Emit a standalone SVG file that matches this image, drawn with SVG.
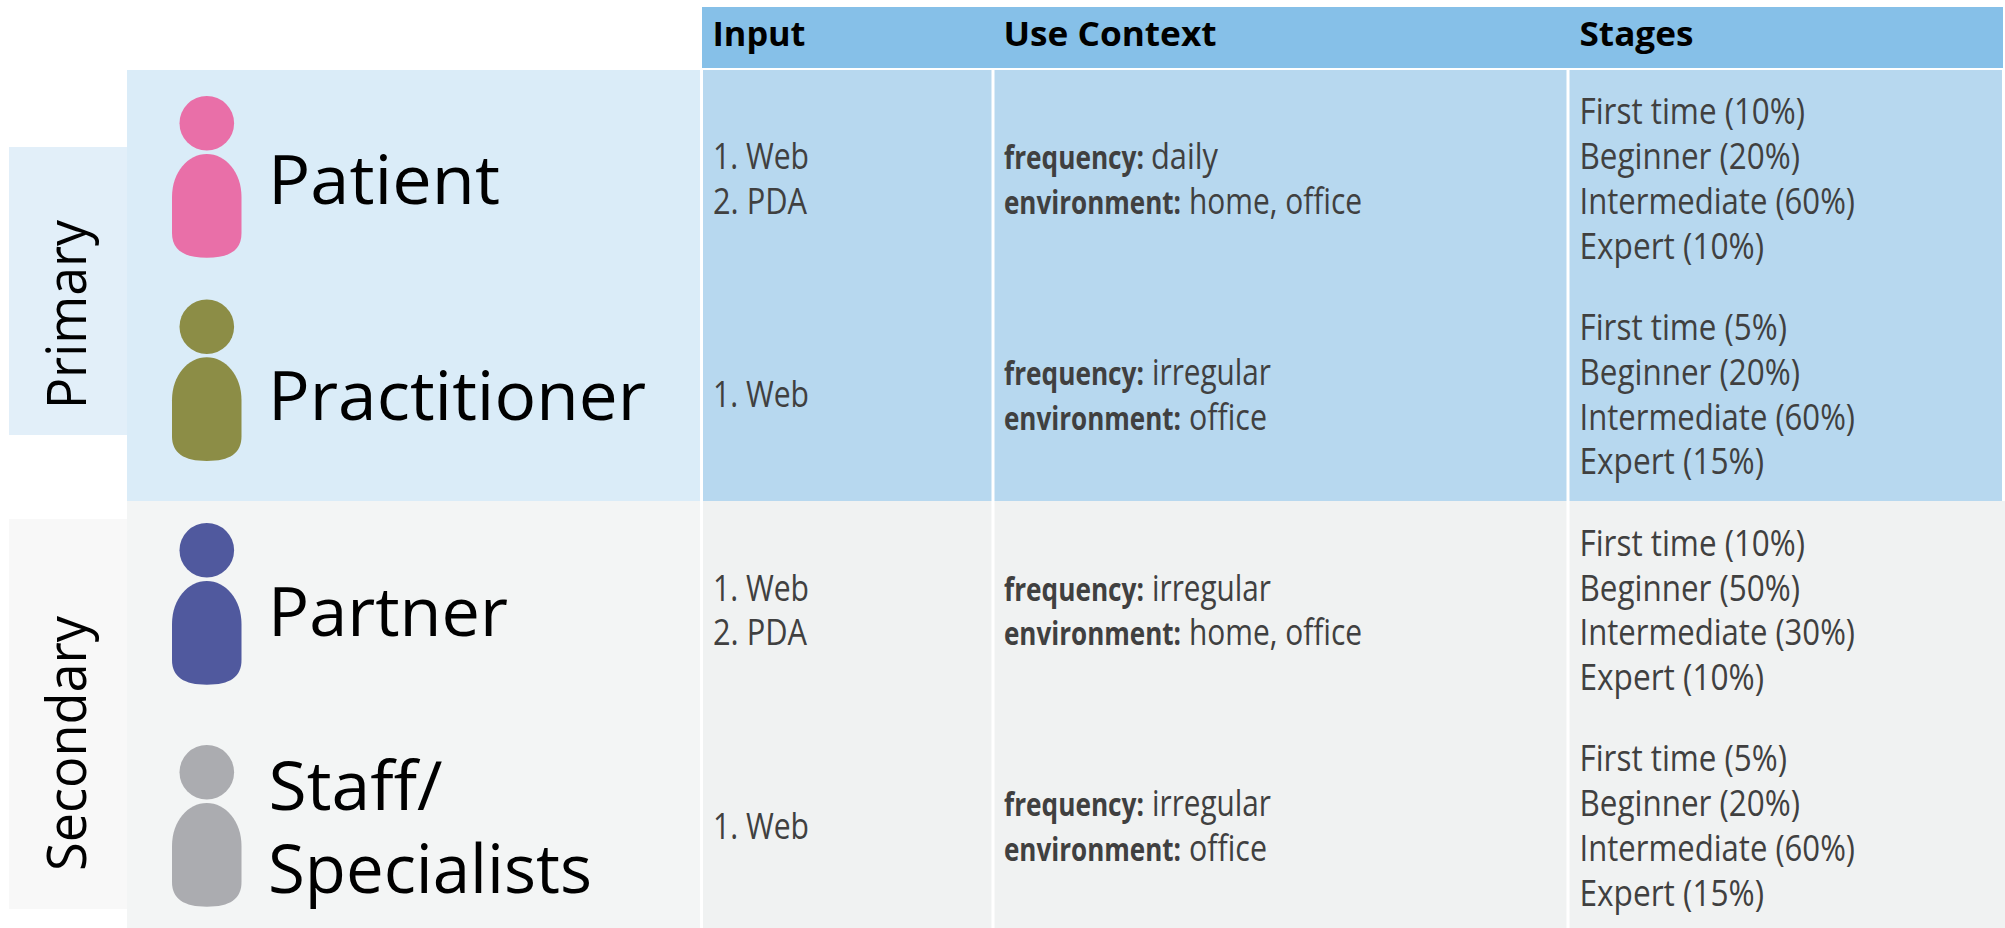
<svg xmlns="http://www.w3.org/2000/svg" width="2005" height="928" viewBox="0 0 2005 928">
<style>
text{font-family:"Open Sans","Noto Sans","Liberation Sans",sans-serif}
.name{font-size:67px;fill:#000}
.band{font-size:55px;fill:#000}
.hd{font-size:34px;font-weight:700;fill:#000}
.t{font-size:36px;fill:#404040}
.k{font-size:32px;font-weight:700;fill:#404040}
.pink{fill:#E96FA8}.olive{fill:#8C8D46}.indigo{fill:#50599E}.grey{fill:#ABACB0}
</style>
<defs>
<path id="body" d="M172 197C172 172 188 154 206.800 154C225.500 154 241.500 172 241.500 197V233C241.500 250 230 257.700 206.800 257.700C184 257.700 172 250 172 233Z"/>
</defs>
<rect width="2005" height="928" fill="#fff"/>
<g id="backgrounds">
<rect x="9" y="147" width="118" height="288" fill="#E2EFF9"/>
<rect x="9" y="519" width="118" height="390" fill="#F8F8F8"/>
<rect x="127" y="70" width="575" height="431" fill="#DAECF8"/>
<rect x="127" y="501" width="575" height="427" fill="#F3F5F5"/>
<rect x="702" y="7" width="1301" height="61" fill="#86C0E8"/>
<rect x="702" y="70" width="1300" height="431" fill="#B7D8EF"/>
<rect x="702" y="501" width="1303" height="427" fill="#F0F2F2"/>
<rect x="700" y="68" width="3" height="860" fill="#fff"/>
<rect x="991.500" y="70" width="3" height="858" fill="#fff"/>
<rect x="1566.500" y="70" width="3" height="858" fill="#fff"/>
</g>
<g id="connectors"/>
<g id="band-primary"><text class="band" transform="translate(86 409) rotate(-90)" textLength="189" lengthAdjust="spacingAndGlyphs">Primary</text></g>
<g id="band-secondary"><text class="band" transform="translate(86 871) rotate(-90)" textLength="255" lengthAdjust="spacingAndGlyphs">Secondary</text></g>
<g id="header">
<text class="hd" x="712.500" y="46" textLength="93" lengthAdjust="spacingAndGlyphs">Input</text>
<text class="hd" x="1003.500" y="46" textLength="213" lengthAdjust="spacingAndGlyphs">Use Context</text>
<text class="hd" x="1579.500" y="46" textLength="114" lengthAdjust="spacingAndGlyphs">Stages</text>
</g>
<g id="patient">
<ellipse class="pink" cx="206.800" cy="123.300" rx="27.300" ry="27.300"/>
<use href="#body" class="pink"/>
<text class="name" x="268" y="204" textLength="232" lengthAdjust="spacingAndGlyphs">Patient</text>
<text class="t" x="713" y="169" textLength="96" lengthAdjust="spacingAndGlyphs">1. Web</text>
<text class="t" x="713" y="214" textLength="94" lengthAdjust="spacingAndGlyphs">2. PDA</text>
<text class="k" x="1004" y="169" textLength="140" lengthAdjust="spacingAndGlyphs">frequency:</text>
<text class="t" x="1151" y="169" textLength="67" lengthAdjust="spacingAndGlyphs">daily</text>
<text class="k" x="1004" y="214" textLength="177" lengthAdjust="spacingAndGlyphs">environment:</text>
<text class="t" x="1189" y="214" textLength="173" lengthAdjust="spacingAndGlyphs">home, office</text>
<text class="t" x="1579.500" y="124" textLength="225.500" lengthAdjust="spacingAndGlyphs">First time (10%)</text>
<text class="t" x="1579.500" y="169" textLength="220.500" lengthAdjust="spacingAndGlyphs">Beginner (20%)</text>
<text class="t" x="1579.500" y="214" textLength="275.500" lengthAdjust="spacingAndGlyphs">Intermediate (60%)</text>
<text class="t" x="1579.500" y="259" textLength="184.500" lengthAdjust="spacingAndGlyphs">Expert (10%)</text>
</g>
<g id="practitioner">
<ellipse class="olive" cx="206.800" cy="326.700" rx="27.300" ry="27.300"/>
<use href="#body" class="olive" y="203.300"/>
<text class="name" x="268" y="420" textLength="378" lengthAdjust="spacingAndGlyphs">Practitioner</text>
<text class="t" x="713" y="407" textLength="96" lengthAdjust="spacingAndGlyphs">1. Web</text>
<text class="k" x="1004" y="385" textLength="140" lengthAdjust="spacingAndGlyphs">frequency:</text>
<text class="t" x="1152" y="385" textLength="119" lengthAdjust="spacingAndGlyphs">irregular</text>
<text class="k" x="1004" y="430" textLength="177" lengthAdjust="spacingAndGlyphs">environment:</text>
<text class="t" x="1189" y="430" textLength="78" lengthAdjust="spacingAndGlyphs">office</text>
<text class="t" x="1579.500" y="340" textLength="207.500" lengthAdjust="spacingAndGlyphs">First time (5%)</text>
<text class="t" x="1579.500" y="385" textLength="220.500" lengthAdjust="spacingAndGlyphs">Beginner (20%)</text>
<text class="t" x="1579.500" y="430" textLength="275.500" lengthAdjust="spacingAndGlyphs">Intermediate (60%)</text>
<text class="t" x="1579.500" y="474" textLength="184.500" lengthAdjust="spacingAndGlyphs">Expert (15%)</text>
</g>
<g id="partner">
<ellipse class="indigo" cx="206.800" cy="550.300" rx="27.300" ry="27.300"/>
<use href="#body" class="indigo" y="427"/>
<text class="name" x="268" y="636" textLength="240" lengthAdjust="spacingAndGlyphs">Partner</text>
<text class="t" x="713" y="601" textLength="96" lengthAdjust="spacingAndGlyphs">1. Web</text>
<text class="t" x="713" y="645" textLength="94" lengthAdjust="spacingAndGlyphs">2. PDA</text>
<text class="k" x="1004" y="601" textLength="140" lengthAdjust="spacingAndGlyphs">frequency:</text>
<text class="t" x="1152" y="601" textLength="119" lengthAdjust="spacingAndGlyphs">irregular</text>
<text class="k" x="1004" y="645" textLength="177" lengthAdjust="spacingAndGlyphs">environment:</text>
<text class="t" x="1189" y="645" textLength="173" lengthAdjust="spacingAndGlyphs">home, office</text>
<text class="t" x="1579.500" y="556" textLength="225.500" lengthAdjust="spacingAndGlyphs">First time (10%)</text>
<text class="t" x="1579.500" y="601" textLength="220.500" lengthAdjust="spacingAndGlyphs">Beginner (50%)</text>
<text class="t" x="1579.500" y="645" textLength="275.500" lengthAdjust="spacingAndGlyphs">Intermediate (30%)</text>
<text class="t" x="1579.500" y="690" textLength="184.500" lengthAdjust="spacingAndGlyphs">Expert (10%)</text>
</g>
<g id="staff">
<ellipse class="grey" cx="206.800" cy="772.300" rx="27.300" ry="27.300"/>
<use href="#body" class="grey" y="649"/>
<text class="name" x="268.500" y="810" textLength="174" lengthAdjust="spacingAndGlyphs">Staff/</text>
<text class="name" x="268" y="893" textLength="324" lengthAdjust="spacingAndGlyphs">Specialists</text>
<text class="t" x="713" y="839" textLength="96" lengthAdjust="spacingAndGlyphs">1. Web</text>
<text class="k" x="1004" y="816" textLength="140" lengthAdjust="spacingAndGlyphs">frequency:</text>
<text class="t" x="1152" y="816" textLength="119" lengthAdjust="spacingAndGlyphs">irregular</text>
<text class="k" x="1004" y="861" textLength="177" lengthAdjust="spacingAndGlyphs">environment:</text>
<text class="t" x="1189" y="861" textLength="78" lengthAdjust="spacingAndGlyphs">office</text>
<text class="t" x="1579.500" y="771" textLength="207.500" lengthAdjust="spacingAndGlyphs">First time (5%)</text>
<text class="t" x="1579.500" y="816" textLength="220.500" lengthAdjust="spacingAndGlyphs">Beginner (20%)</text>
<text class="t" x="1579.500" y="861" textLength="275.500" lengthAdjust="spacingAndGlyphs">Intermediate (60%)</text>
<text class="t" x="1579.500" y="906" textLength="184.500" lengthAdjust="spacingAndGlyphs">Expert (15%)</text>
</g>
</svg>
